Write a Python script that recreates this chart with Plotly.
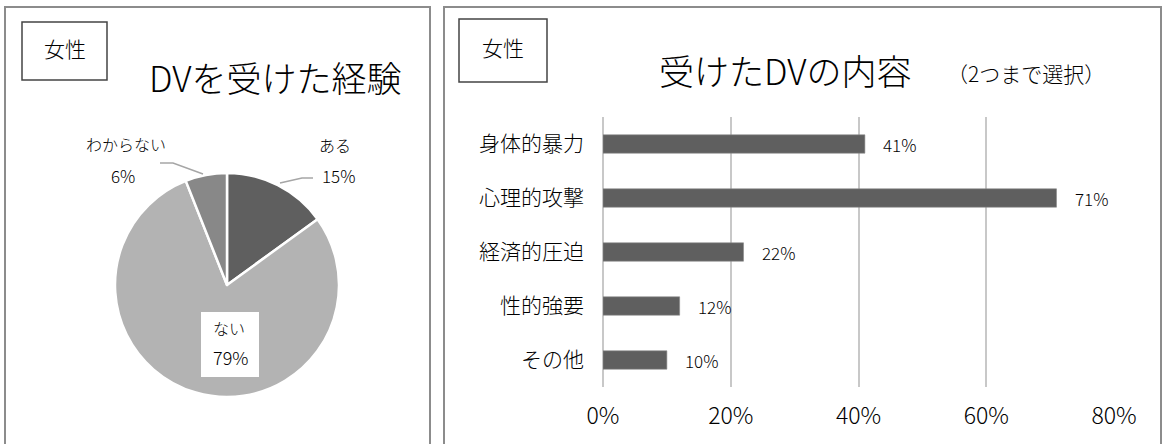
import plotly.graph_objects as go

W, H = 1171, 444
FONT = "Noto Sans CJK JP, Noto Sans, sans-serif"

# Left chart: DVを受けた経験 (女性)
pie_labels = ["ある", "ない", "わからない"]
pie_values = [15, 79, 6]
pie_colors = ["#5f5f5f", "#b3b3b3", "#888888"]

# Right chart: 受けたDVの内容 (2つまで選択)
bar_categories = ["身体的暴力", "心理的攻撃", "経済的圧迫", "性的強要", "その他"]
bar_values = [0.41, 0.71, 0.22, 0.12, 0.10]
x_ticks = [0, 0.2, 0.4, 0.6, 0.8]
x_ticklabels = ["0%", "20%", "40%", "60%", "80%"]


def px(x):
    """pixel x -> paper"""
    return x / W


def py(y):
    """pixel y (from top) -> paper"""
    return 1 - y / H


def label(text, x, y, size, **kw):
    # centred text placed in pixel coordinates of the page
    return dict(text=text, xref="paper", yref="paper", x=px(x), y=py(y),
                xanchor="center", yanchor="middle", showarrow=False,
                font=dict(size=size, color="black", weight=300), **kw)


fig = go.Figure()

fig.add_trace(go.Pie(
    labels=pie_labels,
    values=pie_values,
    sort=False,
    direction="clockwise",
    rotation=0,
    marker=dict(colors=pie_colors, line=dict(color="white", width=2.5)),
    textinfo="none",
    hoverinfo="label+percent",
    domain=dict(x=[px(115), px(339)], y=[py(397), py(173)]),
    showlegend=False,
))

fig.add_trace(go.Bar(
    x=bar_values,
    y=bar_categories,
    orientation="h",
    width=0.34,
    marker=dict(color="#5f5f5f", line=dict(color="#8a8a8a", width=0.6)),
    showlegend=False,
    hovertemplate="%{y}: %{x:.0%}<extra></extra>",
))

shapes = []
annotations = []

# panel frames (run past the bottom edge, as in the source)
for x0, x1 in [(5, 430), (444, 1161)]:
    shapes.append(dict(type="rect", xref="paper", yref="paper",
                       x0=px(x0), x1=px(x1), y0=py(470), y1=py(7),
                       line=dict(color="#8c8c8c", width=2), layer="below"))

# 女性 boxes
for x0, x1, y0, y1 in [(22, 107, 22, 80), (459, 547, 19, 82)]:
    shapes.append(dict(type="rect", xref="paper", yref="paper",
                       x0=px(x0), x1=px(x1), y0=py(y1), y1=py(y0),
                       line=dict(color="#444444", width=1.5)))
    annotations.append(label("女性", (x0 + x1) / 2, (y0 + y1) / 2 - 3, 21))

# titles
annotations.append(label("DVを受けた経験", 275, 76, 35))
annotations.append(label("受けたDVの内容", 785, 70, 35))
annotations.append(label("（2つまで選択）", 1026, 73, 21))

# pie labels (outside) with leader lines
annotations += [
    label(pie_labels[0], 335, 145, 16),
    label(f"{pie_values[0]}%", 338, 176, 17),
    label(pie_labels[2], 126, 144, 16),
    label(f"{pie_values[2]}%", 123, 175, 17),
]

for pts in [[(280, 183), (302, 178), (313, 178)],
            [(160, 163), (173, 163), (203, 174)]]:
    path = "M " + " L ".join(f"{px(x)},{py(y)}" for x, y in pts)
    shapes.append(dict(type="path", xref="paper", yref="paper", path=path,
                       line=dict(color="#a6a6a6", width=1.5)))

# inside label with white box
shapes.append(dict(type="rect", xref="paper", yref="paper",
                   x0=px(201), x1=px(259), y0=py(377), y1=py(312),
                   fillcolor="white", line=dict(width=0), layer="above"))
annotations.append(label(pie_labels[1], 229, 328, 16))
annotations.append(label(f"{pie_values[1]}%", 230, 357, 18))

# bar value labels
for cat, v in zip(bar_categories, bar_values):
    annotations.append(dict(text=f"{round(v * 100)}%", x=v, y=cat,
                            xref="x", yref="y", xanchor="left", xshift=16,
                            showarrow=False,
                            font=dict(size=17, color="black", weight=300)))

fig.update_layout(
    width=W,
    height=H,
    margin=dict(l=0, r=0, t=0, b=0, autoexpand=False),
    paper_bgcolor="white",
    plot_bgcolor="white",
    font=dict(family=FONT, color="black", weight=300),
    xaxis=dict(
        domain=[px(603), px(1114)],
        range=[0, 0.8],
        tickvals=x_ticks,
        ticktext=x_ticklabels,
        showgrid=True,
        gridcolor="#c8c8c8",
        gridwidth=2,
        zeroline=True,
        zerolinecolor="#c8c8c8",
        zerolinewidth=2,
        showline=False,
        ticks="",
        tickfont=dict(size=23, color="black", weight=300),
        ticklabelstandoff=13,
        automargin=False,
        fixedrange=True,
    ),
    yaxis=dict(
        domain=[py(387), py(117)],
        type="category",
        autorange="reversed",
        showgrid=False,
        zeroline=False,
        showline=False,
        ticks="",
        tickfont=dict(size=21, color="black", weight=300),
        ticklabelstandoff=18,
        automargin=False,
        fixedrange=True,
    ),
    shapes=shapes,
    annotations=annotations,
)

fig.write_html(
    "out.html",
    config={"displayModeBar": False},
    post_script="document.body.style.margin='0';document.body.style.overflow='hidden';",
)
